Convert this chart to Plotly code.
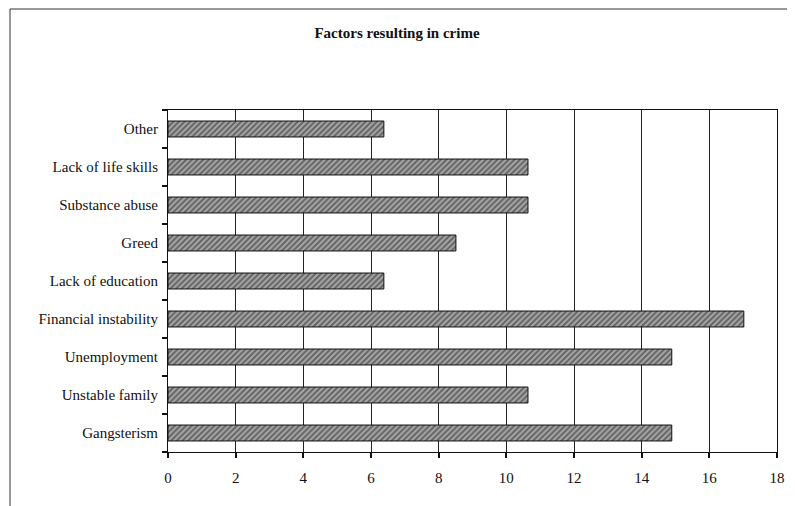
import plotly.graph_objects as go

# Datos (porcentaje de respuestas)
factores = ['Gangsterism', 'Unstable family', 'Unemployment', 'Financial instability',
            'Lack of education', 'Greed', 'Substance abuse', 'Lack of life skills', 'Other']
porcentajes = [14.89, 10.64, 14.89, 17.02, 6.38, 8.51, 10.64, 10.64, 6.38]
x_ticks = [0, 2, 4, 6, 8, 10, 12, 14, 16, 18]

FUENTE = 'Liberation Serif'
# la página añade 8px de margen al body: se compensa aquí
W, H = 787, 498
M_L, M_R, M_T, M_B = 160, 18, 102, 54

fig = go.Figure()
fig.add_trace(go.Bar(
    x=porcentajes, y=factores, orientation='h',
    marker=dict(color='#6e6e6e', line=dict(color='#111', width=1),
                pattern=dict(shape='/', fgcolor='#1e1e1e', bgcolor='#a8a8a8',
                             size=4, solidity=0.5)),
    showlegend=False,
))

fig.update_xaxes(range=[0, 18], tickvals=x_ticks, showgrid=True, gridcolor='#222',
                 gridwidth=1, showline=True, linecolor='#111', mirror=True,
                 ticks='outside', ticklen=5, tickcolor='#111', tickwidth=1.5, zeroline=False,
                 ticklabelstandoff=7, automargin=False,
                 tickfont=dict(family=FUENTE, size=15, color='#111'))
fig.update_yaxes(showline=True, linecolor='#111', mirror=True, ticks='outside',
                 tickson='boundaries', ticklen=5, tickcolor='#111', tickwidth=1.5,
                 ticklabelstandoff=6, automargin=False,
                 tickfont=dict(family=FUENTE, size=15, color='#111'))

# Marco exterior del gráfico (estilo Excel escaneado)
pw = W - M_L - M_R
ph = H - M_T - M_B
x0 = -(M_L - 2) / pw
x1 = 1 + M_R / pw
y1 = 1 + (M_T - 1) / ph
y0 = -M_B / ph
fig.add_shape(type='line', xref='paper', yref='paper', x0=x0, x1=x1, y0=y1, y1=y1,
              line=dict(color='#333', width=1))
fig.add_shape(type='line', xref='paper', yref='paper', x0=x0, x1=x0, y0=y0, y1=y1,
              line=dict(color='#333', width=1))

fig.update_layout(
    width=W, height=H,
    margin=dict(l=M_L, r=M_R, t=M_T, b=M_B),
    bargap=0.58,
    plot_bgcolor='white', paper_bgcolor='white',
    title=dict(text='<b>Factors resulting in crime</b>', x=(397 - 8) / W, xanchor='center',
               y=1 - 25 / H, yanchor='middle',
               font=dict(family=FUENTE, size=15, color='#111')),
)

fig.write_html('out.html')
